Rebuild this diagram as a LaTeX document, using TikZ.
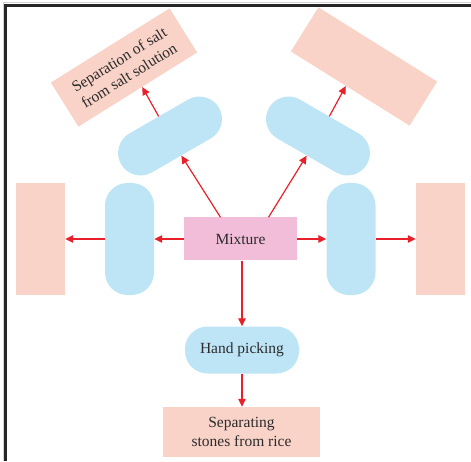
\documentclass[tikz,border=0pt]{standalone}
\usepackage{fontspec}
\setmainfont{Liberation Serif}
\usetikzlibrary{arrows.meta,positioning}
\definecolor{boxpink}{HTML}{F9D3C8}
\definecolor{pillblue}{HTML}{BEE5F6}
\definecolor{mixpink}{HTML}{F1BDD9}
\definecolor{arrowred}{HTML}{E8202A}
\definecolor{txt}{HTML}{2B2B2B}
\tikzset{
	base/.style={inner sep=0pt, text=txt, font=\fontsize{15.5}{18.5}\selectfont, align=center},
	result/.style={base, rectangle, fill=boxpink},
	method/.style={base, rectangle, fill=pillblue, rounded corners=22.5pt},
	link/.style={draw=arrowred, line width=1.2pt, -{Triangle[length=8pt,width=7.5pt]}}
}
\begin{document}
\begin{tikzpicture}[x=1pt,y=1pt]
		\useasboundingbox (0,0) rectangle (471,461);
		\draw[gray!35, line width=1pt] (3,0) -- (3,458) -- (471,458);
		\draw[black!85, line width=2.6pt] (5.6,0) -- (5.6,455.6) -- (471,455.6);

		\node[base, fill=mixpink, minimum width=113pt, minimum height=43pt] (mix) at (240.5,222) {Mixture};
		\node[method, minimum width=49pt, minimum height=112pt] (lpill) at (129.5,222) {};
		\node[method, minimum width=49pt, minimum height=112pt] (rpill) at (351,222) {};
		\node[result, minimum width=49pt, minimum height=112pt] (lbox) at (40.5,222) {};
		\node[result, minimum width=49pt, minimum height=112pt] (rbox) at (440.5,222) {};
		\node[method, minimum width=114pt, minimum height=47pt] (hand) at (242,111) {Hand picking};
		\node[result, minimum width=157pt, minimum height=50pt] (stones) at (241.5,29) {Separating\\stones from rice};
		\node[method, minimum width=113pt, minimum height=45pt, rotate=30] (ulpill) at (170,325) {};
		\node[method, minimum width=113pt, minimum height=45pt, rotate=-30] (urpill) at (318,325) {};
		\node[result, minimum width=140pt, minimum height=52pt, rotate=32] (ulbox) at (124,393.5) {Separation of salt\\from salt solution};
		\node[result, minimum width=140pt, minimum height=52pt, rotate=-32] (urbox) at (364,394.5) {};

		\draw[link] (mix) -- (lpill);
		\draw[link] (lpill) -- (lbox);
		\draw[link] (mix) -- (rpill);
		\draw[link] (rpill) -- (rbox);
		\draw[link] (mix.south -| hand.north) -- (hand.north);
		\draw[link] (hand) -- (hand.south |- stones.north);
		\draw[link] ([xshift=-20pt]mix.north) -- (ulpill.south);
		\draw[link] ([xshift=28pt]mix.north) -- (urpill.south);
		\draw[link] (ulpill.north) -- (ulbox.-79);
		\draw[link] (urpill.north) -- (urbox.-101);
\end{tikzpicture}
\end{document}
